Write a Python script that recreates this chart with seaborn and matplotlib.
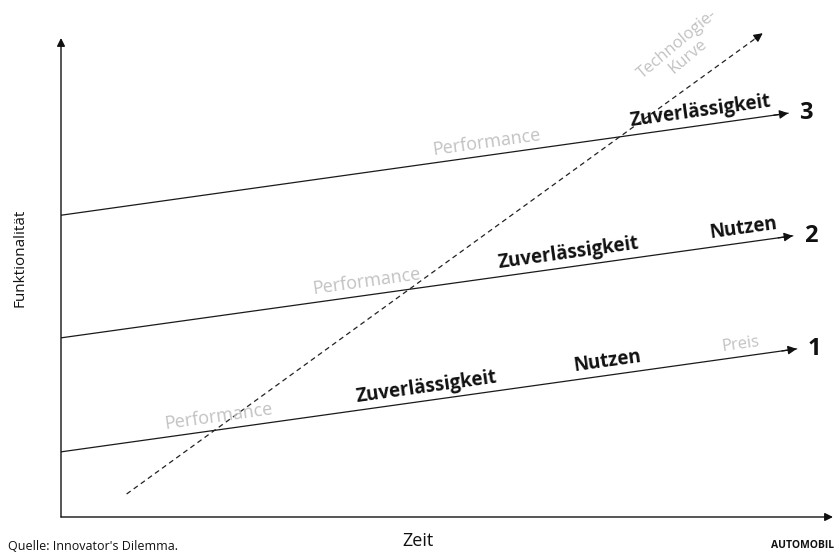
import matplotlib
matplotlib.use("Agg")
import matplotlib.pyplot as plt
import seaborn as sns
import pandas as pd
import numpy as np

# ---- data (time vs. functionality, arbitrary units) ----
zeit_start = [0.0, 0.0, 0.0]
zeit_end = [95.3, 94.8, 94.2]
funk_start = [13.6, 37.4, 63.0]
funk_end = [35.1, 58.7, 84.3]
line_names = ["1", "2", "3"]

tech_zeit = [8.5, 90.9]
tech_funk = [4.8, 101.0]

# labels along each line
label_texts = ["Performance", "Zuverlässigkeit", "Nutzen", "Preis",
               "Performance", "Zuverlässigkeit", "Nutzen",
               "Performance", "Zuverlässigkeit"]
label_line = [0, 0, 0, 0, 1, 1, 1, 2, 2]
label_x = [20.6, 47.5, 70.9, 88.2, 39.8, 65.9, 88.6, 55.3, 83.0]
label_kind = ["grey", "black", "black", "grey", "grey", "black", "black", "grey", "black"]

sns.set_theme(style="white")
plt.rcParams['font.family'] = ['Open Sans', 'DejaVu Sans']

W, H = 837, 552
fig = plt.figure(figsize=(W / 100, H / 100), dpi=100)
fig.patch.set_facecolor("white")
ax = fig.add_axes([61 / W, 35 / H, (W - 61) / W, (517 - 20) / H])
ax.set_xlim(0, (W - 61) / 7.72)
ax.set_ylim(0, (517 - 20) / 4.79)
ax.axis("off")

rows = []
for n, x0, x1, y0, y1 in zip(line_names, zeit_start, zeit_end, funk_start, funk_end):
    rows.append({"Zeit": x0, "Funktionalität": y0, "Linie": n})
    rows.append({"Zeit": x1, "Funktionalität": y1, "Linie": n})
df = pd.DataFrame(rows)

sns.lineplot(data=df, x="Zeit", y="Funktionalität", units="Linie", estimator=None,
             color="#1a1a1a", lw=0.9, ax=ax, legend=False)

# arrow heads + end numbers
for n, x0, x1, y0, y1 in zip(line_names, zeit_start, zeit_end, funk_start, funk_end):
    dx = x1 - x0
    xs = x1 - 0.02 * dx
    ys = y0 + (y1 - y0) * (xs - x0) / dx
    ax.annotate("", xy=(x1, y1), xytext=(xs, ys),
                arrowprops=dict(arrowstyle="-|>", color="#111111", lw=0.9,
                                mutation_scale=13, shrinkA=0, shrinkB=0))
    ax.text(x1 + 1.4, y1, n, fontsize=17, fontweight="bold", color="#111111",
            ha="left", va="center")

# technology curve (dashed)
tech_df = pd.DataFrame({"Zeit": tech_zeit, "Funktionalität": tech_funk})
sns.lineplot(data=tech_df, x="Zeit", y="Funktionalität", color="#222222", lw=0.9,
             ax=ax, legend=False)
ax.lines[-1].set_dashes([4, 3])
ax.lines[-1].set_clip_on(False)
ax.annotate("", xy=(tech_zeit[1], tech_funk[1]),
            xytext=(tech_zeit[1] - 1.0, tech_funk[1] - 1.0 * (tech_funk[1] - tech_funk[0]) / (tech_zeit[1] - tech_zeit[0])),
            arrowprops=dict(arrowstyle="-|>", color="#111111", lw=0.9,
                            mutation_scale=13, shrinkA=0, shrinkB=0),
            annotation_clip=False)
ax.text(80.5, 97.5, "Technologie-\nKurve", fontsize=12, color="#c2c2c2",
        rotation=40, ha="center", va="center", linespacing=1.0,
        rotation_mode="anchor")

# axes arrows
ax.annotate("", xy=(100.0, 0), xytext=(0, 0),
            arrowprops=dict(arrowstyle="-|>", color="#111111", lw=1.0,
                            mutation_scale=12, shrinkA=0, shrinkB=0), annotation_clip=False)
ax.annotate("", xy=(0, 100.0), xytext=(0, 0),
            arrowprops=dict(arrowstyle="-|>", color="#111111", lw=1.0,
                            mutation_scale=12, shrinkA=0, shrinkB=0), annotation_clip=False)

# labels along lines
line_angle = np.degrees(np.arctan(102 / 732))
for t, li, lx, kind in zip(label_texts, label_line, label_x, label_kind):
    slope = (funk_end[li] - funk_start[li]) / (zeit_end[li] - zeit_start[li])
    ly = funk_start[li] + slope * lx
    if kind == "grey":
        fs = 12 if t == "Preis" else 13
        ax.text(lx, ly + 0.9, t, fontsize=fs, color="#c2c2c2", rotation=line_angle,
                ha="center", va="bottom", rotation_mode="anchor")
    else:
        ax.text(lx, ly + 0.8, t, fontsize=13.5, fontweight="bold", color="#111111",
                rotation=line_angle, ha="center", va="bottom", rotation_mode="anchor")

# outer texts
fig.text(20 / W, 1 - 258 / H, "Funktionalität", rotation=90, fontsize=11,
         ha="center", va="center", color="#111111")
fig.text(418 / W, 1 - 541 / H, "Zeit", fontsize=13, ha="center", va="center",
         color="#111111")
fig.text(8 / W, 1 - 546 / H, "Quelle: Innovator's Dilemma.", fontsize=9,
         ha="left", va="center", color="#111111")
fig.text(834 / W, 1 - 546 / H, "AUTOMOBIL", fontsize=7.5, fontweight="bold",
         ha="right", va="center", color="#111111")

fig.savefig("out.png", dpi=100, facecolor="white")
